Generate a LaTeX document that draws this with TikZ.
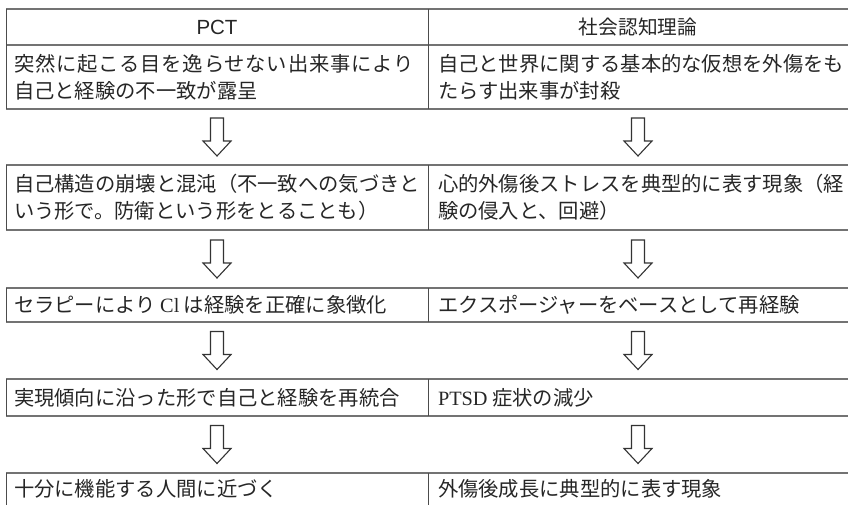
\documentclass[tikz,border=0pt]{standalone}
\usepackage{fontspec}
\newfontfamily\jp{Noto Sans CJK JP}
\newfontfamily\lat{Liberation Serif}
\newfontfamily\hsans{Liberation Sans}
\definecolor{rulec}{gray}{0.45}
\definecolor{vrulec}{gray}{0.3}
\definecolor{ink}{gray}{0.15}
\newcommand\downarr[1]{\draw[arr] (#1) ++(-6.5,-19) -- ++(0,23) -- ++(-7.5,0) -- ++(14,15) -- ++(14,-15) -- ++(-7.5,0) -- ++(0,-23) -- cycle;}
\begin{document}
\begin{tikzpicture}[x=1pt,y=-1pt,
  cellL/.style={anchor=north west,inner sep=0pt,outer sep=0pt,minimum width=422pt},
  cellR/.style={anchor=north west,inner sep=0pt,outer sep=0pt,minimum width=420pt},
  hline/.style={draw=rulec,line width=1.5pt},
  vline/.style={draw=vrulec,line width=1pt},
  arr/.style={draw=black!80,line width=1.1pt,fill=white,line join=miter},
  txt/.style={anchor=west,inner sep=0pt,outer sep=0pt,text=ink,align=left,font=\jp\fontsize{20.3}{27}\selectfont},
  hdr/.style={anchor=center,inner sep=0pt,text=ink}]
\useasboundingbox (0,0) rectangle (848,505);
% cells
\node[cellL,minimum height=36pt] (hL) at (6,9) {};
\node[cellR,minimum height=36pt] (hR) at (428,9) {};
\node[cellL,minimum height=64pt] (r1L) at (6,45) {};
\node[cellR,minimum height=64pt] (r1R) at (428,45) {};
\node[cellL,minimum height=65pt] (r2L) at (6,165) {};
\node[cellR,minimum height=65pt] (r2R) at (428,165) {};
\node[cellL,minimum height=34pt] (r3L) at (6,288) {};
\node[cellR,minimum height=34pt] (r3R) at (428,288) {};
\node[cellL,minimum height=37pt] (r4L) at (6,379) {};
\node[cellR,minimum height=37pt] (r4R) at (428,379) {};
\node[cellL,minimum height=32pt] (r5L) at (6,473) {};
\node[cellR,minimum height=32pt] (r5R) at (428,473) {};
% horizontal rules
\draw[hline] (hL.north west) -- (hR.north east);
\draw[hline] (r1L.north west) -- (r1R.north east);
\draw[hline] (r1L.south west) -- (r1R.south east);
\draw[hline] (r2L.north west) -- (r2R.north east);
\draw[hline] (r2L.south west) -- (r2R.south east);
\draw[hline] (r3L.north west) -- (r3R.north east);
\draw[hline] (r3L.south west) -- (r3R.south east);
\draw[hline] (r4L.north west) -- (r4R.north east);
\draw[hline] (r4L.south west) -- (r4R.south east);
\draw[hline] (r5L.north west) -- (r5R.north east);
% vertical rules
\foreach \c in {hL,hR,r1L,r1R,r2L,r2R,r3L,r3R,r4L,r4R,r5L,r5R}{
  \draw[vline] (\c.north west) -- (\c.south west);
}
% header texts
\node[hdr,font=\hsans\fontsize{20.5}{24}\selectfont] (tHL) at (hL.center) {PCT};
\node[hdr,font=\jp\fontsize{19.7}{24}\selectfont] (tHR) at (hR.center) {社会認知理論};
% body texts
\node[txt] (t1L) at ([xshift=8pt]r1L.west) {{\addfontfeature{LetterSpace=4}突然に起こる目を逸らせない出来事により}\\自己と経験の不一致が露呈};
\node[txt] (t1R) at ([xshift=10pt]r1R.west) {自己と世界に関する基本的な仮想を外傷をも\\たらす出来事が封殺};
\node[txt] (t2L) at ([xshift=8pt]r2L.west) {自己構造の崩壊と混沌（不一致への気づきと\\いう形で。防衛という形をとることも）};
\node[txt] (t2R) at ([xshift=10pt]r2R.west) {心的外傷後ストレスを典型的に表す現象（経\\験の侵入と、回避）};
\node[txt] (t3L) at ([xshift=8pt]r3L.west) {セラピーにより {\lat Cl} は経験を正確に象徴化};
\node[txt] (t3R) at ([xshift=10pt]r3R.west) {エクスポージャーをベースとして再経験};
\node[txt] (t4L) at ([xshift=8pt]r4L.west) {実現傾向に沿った形で自己と経験を再統合};
\node[txt] (t4R) at ([xshift=10pt]r4R.west) {{\lat PTSD} 症状の減少};
\node[txt] (t5L) at ([xshift=8pt]r5L.west) {十分に機能する人間に近づく};
\node[txt] (t5R) at ([xshift=10pt]r5R.west) {外傷後成長に典型的に表す現象};
% arrows between rows
\path (r1L.south) -- (r2L.north) coordinate[pos=0.5] (a1L);
\path (r1R.south) -- (r2R.north) coordinate[pos=0.5] (a1R);
\path (r2L.south) -- (r3L.north) coordinate[pos=0.5] (a2L);
\path (r2R.south) -- (r3R.north) coordinate[pos=0.5] (a2R);
\path (r3L.south) -- (r4L.north) coordinate[pos=0.5] (a3L);
\path (r3R.south) -- (r4R.north) coordinate[pos=0.5] (a3R);
\path (r4L.south) -- (r5L.north) coordinate[pos=0.5] (a4L);
\path (r4R.south) -- (r5R.north) coordinate[pos=0.5] (a4R);
\downarr{a1L}\downarr{a1R}\downarr{a2L}\downarr{a2R}
\downarr{a3L}\downarr{a3R}\downarr{a4L}\downarr{a4R}
\end{tikzpicture}
\end{document}
